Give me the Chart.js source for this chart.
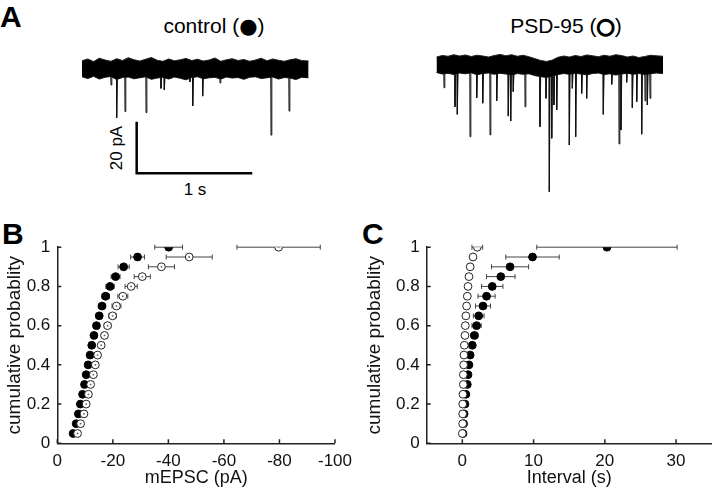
<!DOCTYPE html>
<html>
<head>
<meta charset="utf-8">
<script src="https://cdn.jsdelivr.net/npm/chart.js@4/dist/chart.umd.min.js"></script>
<style>
  html,body{margin:0;padding:0;background:#fff;}
  body{width:720px;height:491px;position:relative;overflow:hidden;font-family:"Liberation Sans",Arial,sans-serif;color:#000;}
  canvas{position:absolute;}
  .t{position:absolute;white-space:nowrap;line-height:1;font-family:"Liberation Sans",Arial,sans-serif;}
  .c{transform:translate(-50%,-50%);}
  .lett{font-weight:bold;font-size:30px;}
  .ring{-webkit-text-stroke:1.6px #000;font-family:"DejaVu Sans",sans-serif;}
  .dot{font-family:"DejaVu Sans",sans-serif;}
</style>
</head>
<body>
<div class="t lett" style="left:0px;top:2px;">A</div>
<div class="t lett" style="left:2px;top:219px;">B</div>
<div class="t lett" style="left:362px;top:219px;">C</div>
<div class="t c" style="left:214px;top:26px;font-size:21px;">control (<span class="dot">●</span>)</div>
<div class="t c" style="left:566px;top:26px;font-size:21px;">PSD-95 (<span class="ring">○</span>)</div>
<div class="t c" style="left:116px;top:148px;font-size:17px;transform:translate(-50%,-50%) rotate(-90deg);">20 pA</div>
<div class="t c" style="left:195px;top:189px;font-size:17px;">1 s</div>

<canvas id="trCtrl" width="250" height="160" style="left:70px;top:40px;"></canvas>
<canvas id="trPsd" width="250" height="160" style="left:425px;top:40px;"></canvas>
<canvas id="chB" width="360" height="261" style="left:0px;top:230px;"></canvas>
<canvas id="chC" width="360" height="261" style="left:360px;top:230px;"></canvas>

<script>
// ---------------- DATA ----------------
// cumulative probability levels
const probs = [0.05,0.1,0.15,0.2,0.25,0.3,0.35,0.4,0.45,0.5,0.55,0.6,0.65,0.7,0.75,0.8,0.85,0.9,0.95,1.0];

// Panel B: mEPSC amplitude (pA), mean and SEM half-width
const ampCtrl    = [-5.7,-6.8,-7.6,-8.3,-9.1,-9.8,-10.4,-11.1,-11.8,-12.4,-13.2,-14.1,-15.1,-16.1,-17.4,-19.0,-21.0,-23.9,-28.9,-40.1];
const ampCtrlErr = [0.3,0.3,0.3,0.35,0.4,0.4,0.5,0.6,0.7,0.8,0.9,1.0,1.1,1.3,1.4,1.5,1.6,2.0,2.5,5.0];
const ampPsd     = [-7.3,-8.4,-9.6,-10.4,-11.2,-12.0,-13.0,-13.7,-14.5,-15.8,-17.0,-18.1,-19.9,-21.3,-23.6,-26.6,-30.6,-37.5,-47.5,-79.7];
const ampPsdErr  = [0.4,0.4,0.45,0.5,0.55,0.6,0.7,0.8,0.9,1.0,1.1,1.2,1.4,1.6,1.8,2.2,2.9,4.7,8.3,15.0];

// Panel C: inter-event interval (s), mean and SEM half-width
const intCtrl    = [0.1,0.18,0.25,0.37,0.5,0.7,0.8,0.93,1.1,1.4,1.7,2.0,2.3,2.9,3.4,4.2,5.4,6.7,9.85,20.3];
const intCtrlErr = [0.1,0.12,0.15,0.18,0.2,0.22,0.25,0.3,0.35,0.4,0.5,0.65,0.75,1.05,1.2,1.5,2.0,2.6,3.75,9.85];
const intPsd     = [0.0,0.05,0.05,0.05,0.09,0.14,0.14,0.19,0.23,0.28,0.37,0.42,0.5,0.6,0.7,0.8,0.93,1.1,1.5,2.1];
const intPsdErr  = [0.02,0.02,0.02,0.03,0.03,0.04,0.04,0.05,0.05,0.06,0.07,0.08,0.09,0.1,0.12,0.14,0.16,0.2,0.3,0.75];

// Axis ticks
const ampTicks = [0,-20,-40,-60,-80,-100];
const intTicks = [0,10,20,30];
const probTicks = [0,0.2,0.4,0.6,0.8,1];

// Panel A: example traces (time s, current pA)
const bandT = [0,0.05,0.1,0.15,0.2,0.25,0.3,0.35,0.4,0.45,0.5,0.55,0.6,0.65,0.7,0.75,0.8,0.85,0.9,0.95,
               1,1.05,1.1,1.15,1.2,1.25,1.3,1.35,1.4,1.45,1.5,1.55,1.6,1.65,1.7,1.75,1.8,1.85,1.9,1.96];
const ctrlUpper = [2.8,3.5,2.5,3.8,3.1,2.6,3.6,2.9,4.0,3.2,2.7,3.4,4.1,3.0,2.6,3.5,2.8,3.2,3.7,2.9,
                   3.4,2.7,3.1,3.9,2.6,3.2,3.6,2.9,3.3,2.6,3.1,3.8,2.8,3.5,3.0,2.6,3.2,3.6,2.9,2.7];
const ctrlLower = [-3.4,-4.1,-3.2,-4.3,-3.6,-3.3,-4.5,-3.7,-3.5,-4.2,-3.8,-3.4,-4.4,-3.9,-3.6,-4.3,-3.5,-4.0,-4.6,-3.7,
                   -3.4,-4.2,-3.8,-3.6,-4.3,-3.5,-3.9,-3.7,-4.4,-3.6,-3.4,-4.1,-3.8,-3.5,-4.3,-3.7,-3.9,-4.5,-3.6,-3.8];
const psdUpper  = [2.7,3.3,3.0,3.6,3.1,3.5,2.9,3.4,3.1,2.7,3.3,3.7,3.2,3.6,3.0,3.4,2.8,2.1,1.4,1.0,
                   1.5,2.6,3.1,2.7,3.3,2.9,3.5,3.2,2.8,3.4,3.0,3.6,3.3,2.7,3.1,2.5,2.9,3.4,3.2,3.0];
const psdLower  = [-3.3,-3.9,-3.6,-4.1,-3.5,-3.8,-3.4,-4.2,-3.7,-3.5,-4.0,-3.6,-3.9,-4.3,-3.7,-4.0,-3.8,-4.5,-4.9,-5.2,
                   -4.7,-4.1,-3.7,-4.0,-3.6,-3.9,-4.2,-3.7,-3.5,-4.1,-3.8,-4.3,-3.9,-3.6,-4.0,-3.7,-4.1,-3.8,-3.5,-3.7];

const ctrlSpikeT   = [0.251,0.300,0.372,0.554,0.683,0.712,0.934,0.958,1.044,1.194,1.635,1.791];
const ctrlSpikeAmp = [-6.6,-19.3,-16.9,-17.3,-7.9,-8.5,-5.4,-14.7,-10.9,-5.8,-26.0,-16.7];

const psdSpikeT   = [0.065,0.160,0.180,0.290,0.348,0.400,0.463,0.521,0.621,0.642,0.664,0.766,0.895,0.947,0.976,0.997,1.016,
                     1.040,1.149,1.175,1.204,1.256,1.299,1.443,1.516,1.579,1.596,1.645,1.694,1.732,1.775,1.804,1.824,1.847];
const psdSpikeAmp = [-9.2,-16.6,-19.5,-28.2,-13.1,-15.2,-27.5,-14.3,-20.2,-22.1,-10.7,-16.6,-24.3,-13.3,-49.5,-28.8,-15.9,
                     -17.8,-31.4,-9.4,-28.2,-11.4,-13.3,-19.5,-7.9,-31.0,-25.6,-7.1,-16.9,-14.6,-27.2,-14.3,-15.9,-13.3];

// scale bar: 20 pA, 1 s
const scaleBarSize = {pA: 20, s: 1};

// ---------------- HELPERS ----------------
const FONT = '"Liberation Sans", Arial, sans-serif';

function spikeData(ts, amps, base) {
  const out = [];
  ts.forEach((t, i) => {
    out.push({x: t - 0.002, y: base});
    out.push({x: t, y: amps[i]});
    out.push({x: t + 0.007, y: base});
    out.push({x: t + 0.007, y: null});
  });
  return out;
}
function pts(xs, ys) { return xs.map((x, i) => ({x: x, y: ys[i]})); }

function traceChart(id, upper, lower, sT, sA, xr, yr, bar) {
  const ds = [
    {data: pts(bandT, upper), borderColor: '#222', borderWidth: 1, pointRadius: 0, tension: 0, fill: '+1', backgroundColor: '#000'},
    {data: pts(bandT, lower), borderColor: '#222', borderWidth: 1, pointRadius: 0, tension: 0, fill: false},
    {data: spikeData(sT, sA, -3), borderColor: '#111', borderWidth: 1, pointRadius: 0, tension: 0, spanGaps: false, fill: false}
  ];
  if (bar) {
    ds.push({data: [{x: bar.t0, y: bar.i0}, {x: bar.t0, y: bar.i0 - scaleBarSize.pA}, {x: bar.t0 + scaleBarSize.s, y: bar.i0 - scaleBarSize.pA}],
             borderColor: '#000', borderWidth: 2.5, pointRadius: 0, tension: 0, fill: false});
  }
  new Chart(document.getElementById(id), {
    type: 'line',
    data: {datasets: ds},
    options: {
      responsive: false, animation: false, events: [],
      plugins: {legend: {display: false}, tooltip: {enabled: false}},
      layout: {padding: 0},
      scales: {
        x: {type: 'linear', display: false, min: xr[0], max: xr[1]},
        y: {type: 'linear', display: false, min: yr[0], max: yr[1]}
      }
    }
  });
}

// pixel scale used for traces: 115.6 px per s, 2.58 px per pA
traceChart('trCtrl', ctrlUpper, ctrlLower, ctrlSpikeT, ctrlSpikeAmp,
  [-12/115.6, 238/115.6], [-(132)/2.58, 28/2.58], {t0: 0.473, i0: -20.8});
traceChart('trPsd', psdUpper, psdLower, psdSpikeT, psdSpikeAmp,
  [-11.5/115.6, 238.5/115.6], [-(136)/2.58, 24/2.58], null);

// error bars + inward ticks plugin
const decorPlugin = {
  id: 'decor',
  beforeDatasetsDraw(chart) {
    const ctx = chart.ctx, xs = chart.scales.x, ys = chart.scales.y;
    ctx.save();
    ctx.strokeStyle = '#444';
    ctx.lineWidth = 1;
    chart.data.datasets.forEach(ds => {
      if (!ds.err) return;
      ds.data.forEach((p, i) => {
        const e = ds.err[i];
        const x1 = xs.getPixelForValue(p.x - e), x2 = xs.getPixelForValue(p.x + e);
        const y = ys.getPixelForValue(p.y);
        ctx.beginPath();
        ctx.moveTo(x1, y); ctx.lineTo(x2, y);
        ctx.moveTo(x1, y - 2.5); ctx.lineTo(x1, y + 2.5);
        ctx.moveTo(x2, y - 2.5); ctx.lineTo(x2, y + 2.5);
        ctx.stroke();
      });
    });
    ctx.restore();
  },
  afterDraw(chart) {
    const ctx = chart.ctx, xs = chart.scales.x, ys = chart.scales.y, a = chart.chartArea;
    ctx.save();
    ctx.strokeStyle = '#222';
    ctx.lineWidth = 1.5;
    ctx.beginPath();
    xs.ticks.forEach(t => { const px = xs.getPixelForValue(t.value); ctx.moveTo(px, a.bottom); ctx.lineTo(px, a.bottom - 4); });
    ys.ticks.forEach(t => { const py = ys.getPixelForValue(t.value); ctx.moveTo(a.left, py); ctx.lineTo(a.left + 4, py); });
    ctx.stroke();
    ctx.restore();
  }
};

function cumChart(id, xCfg, ctrlX, ctrlE, psdX, psdE, centerDots, yW, rightPad) {
  const datasets = [
    {data: pts(ctrlX, probs), err: ctrlE, backgroundColor: '#000', borderColor: '#000', borderWidth: 1, pointRadius: 3.9, order: 3},
    {data: pts(psdX, probs), err: psdE, backgroundColor: '#fff', borderColor: '#222', borderWidth: 1, pointRadius: 3.9, order: 2}
  ];
  if (centerDots) datasets.push({data: pts(psdX, probs), backgroundColor: '#666', borderWidth: 0, pointRadius: 0.9, order: 1});
  new Chart(document.getElementById(id), {
    type: 'scatter',
    data: {datasets: datasets},
    options: {
      responsive: false, animation: false, events: [],
      plugins: {legend: {display: false}, tooltip: {enabled: false}},
      layout: {padding: {left: 0, right: rightPad, top: 12, bottom: 0}},
      scales: {
        x: Object.assign({
          type: 'linear',
          grid: {display: false, drawTicks: false},
          border: {display: true, color: '#222', width: 1.5},
          ticks: {font: {family: FONT, size: 17}, color: '#111', padding: 8, maxRotation: 0, autoSkip: false},
          afterFit: s => { s.height = 47.7; }
        }, xCfg),
        y: {
          type: 'linear', min: 0, max: 1,
          grid: {display: false, drawTicks: false},
          border: {display: true, color: '#222', width: 1.5},
          ticks: {font: {family: FONT, size: 17}, color: '#111', padding: 7, autoSkip: false,
                  callback: v => String(Math.round(v * 10) / 10)},
          afterBuildTicks: s => { s.ticks = probTicks.map(v => ({value: v})); },
          title: {display: true, text: 'cumulative probablity', font: {family: FONT, size: 19}, color: '#111', padding: {top: 3, bottom: 0}},
          afterFit: s => { s.width = yW; }
        }
      }
    },
    plugins: [decorPlugin]
  });
}

cumChart('chB', {
  min: -100, max: 0, reverse: true,
  afterBuildTicks: s => { s.ticks = ampTicks.map(v => ({value: v})); },
  title: {display: true, text: 'mEPSC (pA)', font: {family: FONT, size: 18}, color: '#111', padding: {top: 0, bottom: 2}}
}, ampCtrl, ampCtrlErr, ampPsd, ampPsdErr, true, 57.3, 17.7);

cumChart('chC', {
  min: -5, max: 35,
  afterBuildTicks: s => { s.ticks = intTicks.map(v => ({value: v})); },
  title: {display: true, text: 'Interval (s)', font: {family: FONT, size: 18}, color: '#111', padding: {top: 0, bottom: 2}}
}, intCtrl, intCtrlErr, intPsd, intPsdErr, false, 66.7, 8.3);
</script>
</body>
</html>
